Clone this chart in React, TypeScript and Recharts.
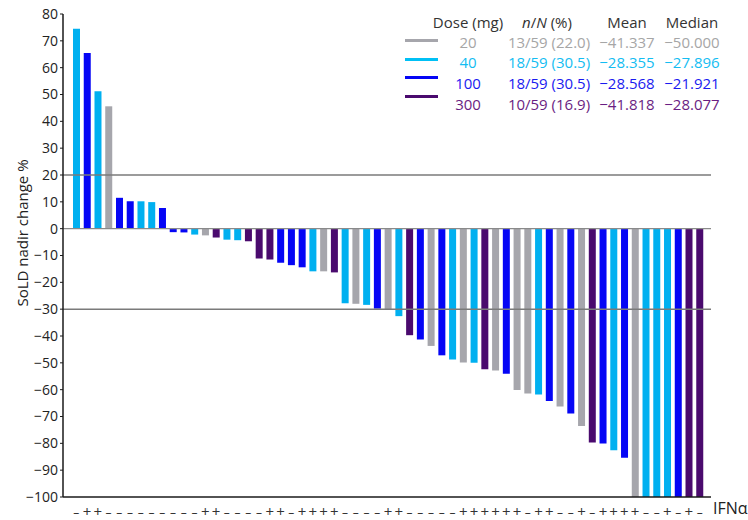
import React from 'react';
import { BarChart, Bar, Cell, XAxis, YAxis, ReferenceLine } from 'recharts';

// best change from baseline per patient, sorted (waterfall)
const change = [
  74.5, 65.5, 51.2, 45.6, 11.5, 10.2, 10.2, 9.9, 7.7, -1.3, -1.4, -2.2, -2.5, -3.3, -4.1, -4.3, -4.7,
  -11.1, -11.5, -12.7, -13.6, -14.4, -15.9, -15.9, -16.3, -27.8, -28.0, -28.4, -29.8, -30.3, -32.6,
  -39.7, -41.3, -43.7, -47.2, -48.8, -49.9, -50.0, -52.4, -52.9, -54.1, -60.1, -61.4, -61.8, -64.2,
  -66.3, -68.9, -73.5, -79.7, -80.1, -82.6, -85.4, -100, -100, -100, -100, -100, -100, -100,
];

// dose group (mg) of each bar
const dose = [
  40, 100, 40, 20, 100, 100, 40, 40, 100, 100, 100, 40, 20, 300, 40, 40, 300,
  300, 300, 100, 100, 100, 40, 20, 300, 40, 20, 40, 100, 20, 40,
  300, 100, 20, 100, 40, 20, 40, 300, 20, 100, 20, 20, 40, 100,
  20, 100, 20, 300, 100, 40, 100, 20, 40, 40, 40, 100, 300, 300,
];

// IFNα status under each bar
const ifn = [
  '–', '+', '+', '–', '–', '–', '–', '–', '–', '–', '–', '–', '+', '+', '–', '–', '–', '–', '+', '+',
  '–', '+', '+', '+', '+', '–', '–', '–', '–', '+', '+', '–', '–', '–', '–', '–', '+', '+', '+', '+',
  '+', '+', '–', '+', '+', '–', '–', '+', '–', '+', '+', '+', '+', '–', '–', '+', '–', '+', '–',
];

const yTicks = [80, 70, 60, 50, 40, 30, 20, 10, 0, -10, -20, -30, -40, -50, -60, -70, -80, -90, -100];

// legend table
const doseLevels = [20, 40, 100, 300];
const nN = ['13/59 (22.0)', '18/59 (30.5)', '18/59 (30.5)', '10/59 (16.9)'];
const means = ['−41.337', '−28.355', '−28.568', '−41.818'];
const medians = ['−50.000', '−27.896', '−21.921', '−28.077'];

const barColor: Record<number, string> = { 20: '#a6a6ac', 40: '#00b0f0', 100: '#0505f5', 300: '#4a0a6e' };
const textColor: Record<number, string> = { 20: '#a6a6a6', 40: '#14bdf2', 100: '#1a1af0', 300: '#6a1d82' };

const data = change.map((v, i) => ({ id: String(i), change: v, dose: dose[i] }));

const fmt = (v: number) => (v < 0 ? '−' + Math.abs(v) : String(v));

const IfnTick = (p: any) => {
  const i = p.payload?.index ?? p.index;
  const s = ifn[i];
  return (
    <text x={p.x} y={p.y + 12} textAnchor="middle" fontSize={s === '+' ? 15 : 12} fill="#333">
      {s}
    </text>
  );
};

const cell = (cx: number, cy: number, w: number, color: string, text: React.ReactNode, key?: string) => (
  <div
    key={key}
    style={{
      position: 'absolute',
      left: cx - w / 2,
      top: cy - 11,
      width: w,
      height: 22,
      lineHeight: '22px',
      textAlign: 'center',
      color,
      fontSize: 15,
      whiteSpace: 'nowrap',
    }}
  >
    {text}
  </div>
);

export default function App() {
  const rowY = [42, 62, 83, 104];
  const lineY = [40, 59, 77, 96];
  return (
    <div style={{ position: 'absolute', left: 0, top: 0, width: 748, height: 520, background: '#fff', fontFamily: '"Open Sans", sans-serif' }}>
      <BarChart width={748} height={520} data={data} margin={{ top: 14, right: 37, bottom: 5, left: 0 }}>
        <XAxis
          dataKey="id"
          interval={0}
          tickLine={false}
          axisLine={{ stroke: '#1a1a1a', strokeWidth: 1.5 }}
          height={18}
          padding={{ left: 8, right: 6 }}
          tick={IfnTick}
        />
        <YAxis
          domain={[-100, 80]}
          ticks={yTicks}
          interval={0}
          width={63}
          tickSize={3}
          tickMargin={2}
          tickLine={{ stroke: '#1a1a1a' }}
          axisLine={{ stroke: '#1a1a1a', strokeWidth: 1.5 }}
          tick={{ fontSize: 14, fill: '#222' }}
          tickFormatter={fmt}
        />
        <ReferenceLine y={0} stroke="#8a8a8a" strokeWidth={1.2} />
        <ReferenceLine y={20} stroke="#7a7a7a" strokeWidth={1.5} />
        <ReferenceLine y={-30} stroke="#7a7a7a" strokeWidth={1.5} />
        <Bar dataKey="change" barSize={7} isAnimationActive={false}>
          {data.map((d, i) => (
            <Cell key={i} fill={barColor[d.dose]} />
          ))}
        </Bar>
      </BarChart>

      {/* y axis title */}
      <div
        style={{
          position: 'absolute',
          left: 22 - 100,
          top: 233 - 11,
          width: 200,
          height: 22,
          lineHeight: '22px',
          textAlign: 'center',
          fontSize: 15,
          color: '#222',
          transform: 'rotate(-90deg)',
        }}
      >
        SoLD nadir change %
      </div>

      {/* IFNα row label */}
      <div style={{ position: 'absolute', left: 713, top: 497, fontSize: 16, color: '#222', lineHeight: '22px' }}>IFNα</div>

      {/* legend table */}
      {cell(468, 22, 100, '#333', 'Dose (mg)')}
      {cell(547, 22, 100, '#333', (
        <span>
          <i>n</i>/<i>N</i> (%)
        </span>
      ))}
      {cell(627, 22, 80, '#333', 'Mean')}
      {cell(692, 22, 80, '#333', 'Median')}
      {doseLevels.map((d, i) => (
        <React.Fragment key={d}>
          <div
            style={{
              position: 'absolute',
              left: 405,
              top: lineY[i] - 1.5,
              width: 33,
              height: 3,
              background: d === 40 ? '#00c0f5' : barColor[d],
            }}
          />
          {cell(468, rowY[i], 60, textColor[d], String(d))}
          {cell(549, rowY[i], 100, textColor[d], nN[i])}
          {cell(627, rowY[i], 80, textColor[d], means[i])}
          {cell(692, rowY[i], 80, textColor[d], medians[i])}
        </React.Fragment>
      ))}
    </div>
  );
}
